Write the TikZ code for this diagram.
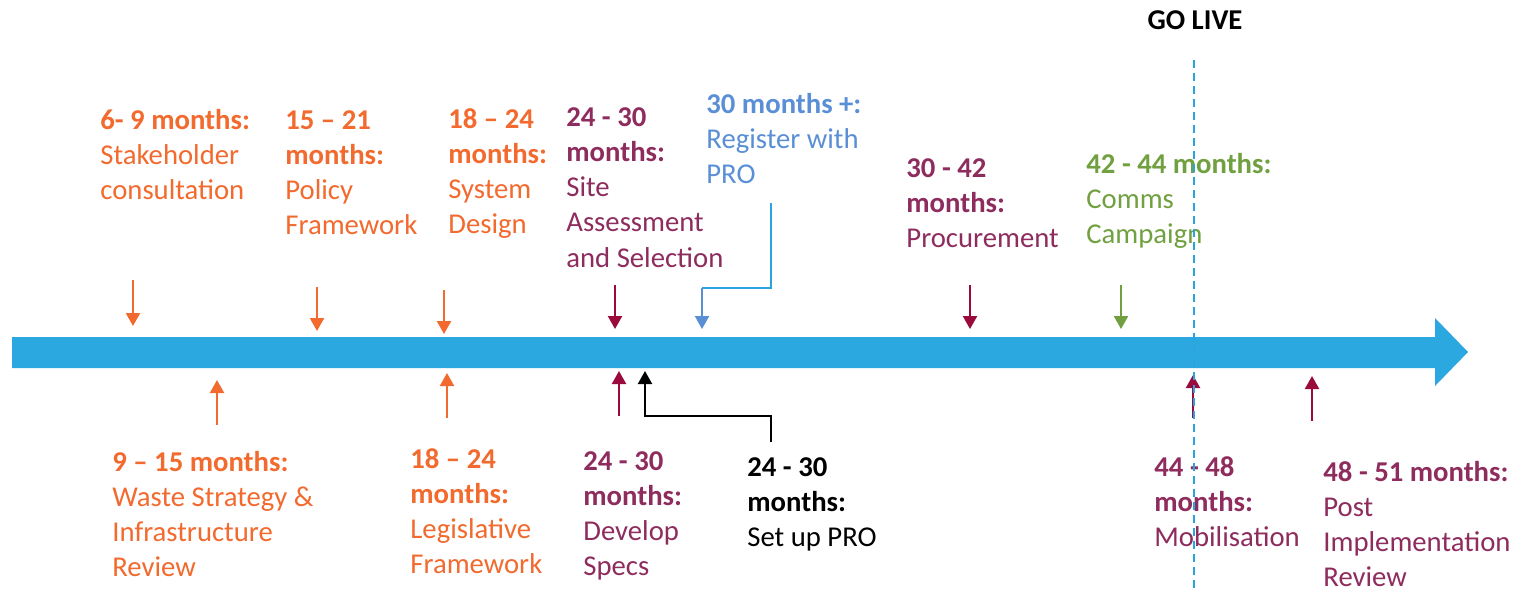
\documentclass[tikz,border=0pt]{standalone}
\usepackage{fontspec}
\setmainfont{Carlito}
\usetikzlibrary{arrows.meta}
\definecolor{orng}{HTML}{F26A2E}
\definecolor{marn}{HTML}{8E2C5E}
\definecolor{marnar}{HTML}{9A0A3C}
\definecolor{blu}{HTML}{5A8FD5}
\definecolor{cyn}{HTML}{2AA4DF}
\definecolor{grn}{HTML}{70A040}
\definecolor{band}{HTML}{2CA8E0}
\newcommand{\lines}[1]{\begin{tabular}[t]{@{}l@{}}#1\end{tabular}}
\begin{document}
\begin{tikzpicture}[x=0.5pt,y=-0.5pt,
  lbl/.style={anchor=base west, inner sep=0pt, font=\fontsize{14.35}{17.65}\selectfont},
  tick/.style={line width=1.1pt, -{Triangle[width=7pt,length=6.5pt]}},
]
\useasboundingbox[fill=white] (0,0) rectangle (1515,591);

% main timeline arrow
\fill[band] (12,337) -- (1435,337) -- (1435,318) -- (1468,352) -- (1435,386) -- (1435,368) -- (12,368) -- cycle;

% title
\node[lbl, anchor=base, font=\fontsize{14.35}{17.65}\selectfont\bfseries] (golive) at (1195,29) {GO LIVE};

% top labels
\node[lbl, text=orng] (t1) at (100,129) {\lines{\textbf{6- 9 months:}\\Stakeholder\\consultation}};
\node[lbl, text=orng] (t2) at (285,129) {\lines{\textbf{15 – 21}\\\textbf{months:}\\Policy\\Framework}};
\node[lbl, text=orng] (t3) at (448,128) {\lines{\textbf{18 – 24}\\\textbf{months:}\\System\\Design}};
\node[lbl, text=marn] (t4) at (566,126) {\lines{\textbf{24 - 30}\\\textbf{months:}\\Site\\Assessment\\and Selection}};
\node[lbl, text=blu] (t5) at (706,113) {\lines{\textbf{30 months +:}\\Register with\\PRO}};
\node[lbl, text=marn] (t6) at (906,177) {\lines{\textbf{30 - 42}\\\textbf{months:}\\Procurement}};
\node[lbl, text=grn] (t7) at (1086,173) {\lines{\textbf{42 - 44 months:}\\Comms\\Campaign}};

% bottom labels
\node[lbl, text=orng] (b1) at (112,471) {\lines{\textbf{9 – 15 months:}\\Waste Strategy \&\\Infrastructure\\Review}};
\node[lbl, text=orng] (b2) at (410,468) {\lines{\textbf{18 – 24}\\\textbf{months:}\\Legislative\\Framework}};
\node[lbl, text=marn] (b3) at (583,470) {\lines{\textbf{24 - 30}\\\textbf{months:}\\Develop\\Specs}};
\node[lbl, text=black] (b4) at (747,476) {\lines{\textbf{24 - 30}\\\textbf{months:}\\Set up PRO}};
\node[lbl, text=marn] (b5) at (1154,476) {\lines{\textbf{44 - 48}\\\textbf{months:}\\Mobilisation}};
\node[lbl, text=marn] (b6) at (1323,481) {\lines{\textbf{48 - 51 months:}\\Post\\Implementation\\Review}};

% down arrows
\draw[tick, orng] (133,280) -- (133,326);
\draw[tick, orng] (317,287) -- (317,331);
\draw[tick, orng] (444,290) -- (444,334);
\draw[tick, marnar] (615,285) -- (615,329);
\coordinate (pro1) at (771,203);
\coordinate (pro2) at (702,288);
\draw[cyn, line width=1.1pt] (pro1) |- (pro2);
\draw[tick, blu] (pro2) -- (702,329);
\draw[tick, marnar] (970,285) -- (970,329);
\draw[tick, grn] (1121,285) -- (1121,329);

% up arrows
\draw[tick, orng] (217,425) -- (217,380);
\draw[tick, orng] (447,418) -- (447,373);
\draw[tick, marnar] (619,416) -- (619,371);
\coordinate (setup) at (771,442);
\draw[tick, black] (setup) |- (645,416) -- (645,371);
\draw[tick, marnar] (1193,418) -- (1193,375);
\draw[tick, marnar] (1312,421) -- (1312,376);

% go live line
\draw[cyn, line width=1pt, dash pattern=on 4pt off 2.5pt] (1194,60) -- (1194,591);
\end{tikzpicture}
\end{document}
